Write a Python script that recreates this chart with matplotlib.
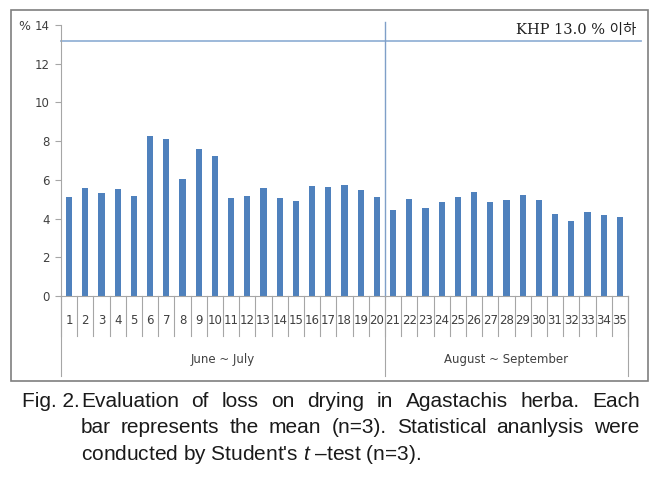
import numpy as np
import matplotlib
matplotlib.use("Agg")
import matplotlib.pyplot as plt
from matplotlib.patches import Rectangle

plt.rcParams['mathtext.fontset'] = 'custom'
plt.rcParams['mathtext.it'] = 'Liberation Sans:italic'
plt.rcParams['mathtext.rm'] = 'Liberation Sans'

# Data
samples = [str(i) for i in range(1, 36)]
loss = [5.10, 5.59, 5.30, 5.51, 5.18, 8.25, 8.11, 6.06, 7.59, 7.23,
        5.05, 5.18, 5.56, 5.05, 4.91, 5.68, 5.65, 5.73, 5.46, 5.10,
        4.44, 4.99, 4.53, 4.86, 5.10, 5.36, 4.86, 4.94, 5.22, 4.94,
        4.25, 3.89, 4.34, 4.17, 4.07]
groups = ["June ~ July", "August ~ September"]
group_sizes = [20, 15]
khp_limit = 13.15
khp_label = "KHP 13.0 % 이하"
yticks = [0, 2, 4, 6, 8, 10, 12, 14]

W, H = 667, 480
fig = plt.figure(figsize=(W / 100, H / 100), dpi=100)

# outer frame around the chart
fig.patches.append(Rectangle((11 / W, 1 - 381 / H), (648 - 11) / W, (381 - 10) / H,
                             transform=fig.transFigure, fill=False,
                             edgecolor='#7f7f7f', linewidth=1.2))

x0, x1, y0, y1 = 61, 628, 296, 25
ax = fig.add_axes([x0 / W, 1 - y0 / H, (x1 - x0) / W, (y0 - y1) / H])
bar_color = '#4F81BD'
axis_color = '#a6a6a6'
label_color = '#404040'

x = np.arange(len(samples)) + 0.5
ax.bar(x, loss, width=0.38, color=bar_color, zorder=2)
ax.set_xlim(0, len(samples))
ax.set_ylim(0, 14)

for s in ['top', 'right']:
    ax.spines[s].set_visible(False)
ax.spines['left'].set_color(axis_color)
ax.spines['bottom'].set_color(axis_color)
ax.set_xticks([])
ax.set_yticks(yticks)
ax.tick_params(axis='y', direction='out', length=4, color=axis_color,
               labelsize=8.5, labelcolor=label_color, pad=4)

cat_w = (x1 - x0) / len(samples)

# KHP limit line (runs a bit past the category axis)
ax.plot([0, len(samples) + (641 - x1) / cat_w], [khp_limit, khp_limit],
        color='#95b3d7', linewidth=1.3, zorder=1, clip_on=False)
ax.text(len(samples) + (636 - x1) / cat_w, 13.75, khp_label, ha='right', va='center',
        fontsize=10.5, family=['DejaVu Serif', 'Noto Sans CJK KR'], color='#202020')
fig.text(24 / W, 1 - 26 / H, "%", fontsize=9, color=label_color, ha='center', va='center')

# category axis (two-level, Excel style)
ph = y0 - y1
def ay(py):
    return (y0 - py) / ph

trans = ax.get_xaxis_transform()
for i in range(len(samples) + 1):
    ax.plot([i, i], [0, ay(336)], transform=trans, color=axis_color,
            linewidth=0.8, clip_on=False)
for xi, lab in zip(x, samples):
    ax.text(xi, ay(320), lab, transform=trans, ha='center', va='center',
            fontsize=8.5, color=label_color)

edges = np.concatenate([[0], np.cumsum(group_sizes)])
for e in edges:
    ax.plot([e, e], [0, ay(376)], transform=trans, color=axis_color,
            linewidth=0.8, clip_on=False)
for g, a, b in zip(groups, edges[:-1], edges[1:]):
    ax.text((a + b) / 2, ay(360), g, transform=trans, ha='center', va='center',
            fontsize=8.5, color=label_color)

# season separator inside plot
ax.plot([edges[1], edges[1]], [0, ay(22)], transform=trans, color='#7f9fc8',
        linewidth=1.0, clip_on=False)

# caption (first two lines justified)
cap_font = dict(fontsize=15, family='Liberation Sans', color='#1a1a1a', va='baseline')
renderer = fig.canvas.get_renderer()

def justified(line, left, right, base):
    words = line.split(" ")
    texts = [fig.text(0, 1 - base / H, w, **cap_font) for w in words]
    widths = [t.get_window_extent(renderer).width for t in texts]
    gap = (right - left - sum(widths)) / (len(words) - 1)
    pos = left
    for t, w in zip(texts, widths):
        t.set_x(pos / W)
        pos += w + gap

fig.text(22 / W, 1 - 407 / H, "Fig. 2.", **cap_font)
justified("Evaluation of loss on drying in Agastachis herba. Each", 81, 640, 407)
justified("bar represents the mean (n=3). Statistical ananlysis were", 81, 639, 433)
fig.text(81 / W, 1 - 460 / H, "conducted by Student's $t$ \u2013test (n=3).", **cap_font)

fig.savefig("out.png", dpi=100)
